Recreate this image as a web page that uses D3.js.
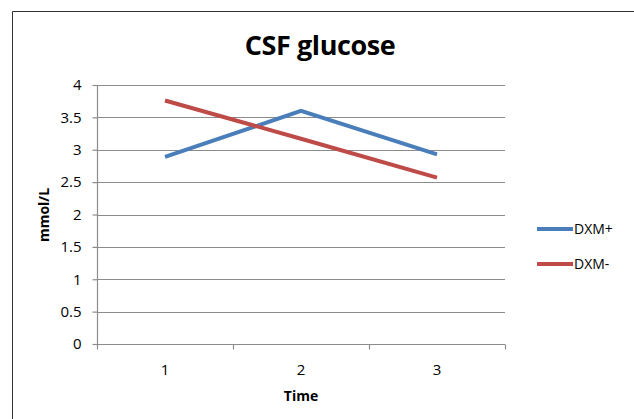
<!DOCTYPE html>
<html>
<head>
    <title>CSF glucose</title>
    <script src="https://cdnjs.cloudflare.com/ajax/libs/d3/7.8.5/d3.min.js"></script>
    <style>
    body {
        margin:0;
        background:white;
    }
    text {
        font-family:'Open Sans', 'DejaVu Sans', sans-serif;
        fill:#000;
    }
    </style>
</head>
<body>
<div id='chart'></div>
<script>
    // data
    var times = ['1', '2', '3'];
    var dxmPlus = [2.89, 3.60, 2.93];
    var dxmMinus = [3.76, 3.17, 2.57];
    var seriesNames = ['DXM+', 'DXM-'];
    var seriesColors = ['#4a7ebb', '#be4b48'];
    var yTicks = [0, 0.5, 1, 1.5, 2, 2.5, 3, 3.5, 4];

    var width = 634, height = 419;
    var plot = {left:97, right:505, top:85, bottom:344};

    var svg = d3.select('#chart')
        .append('svg')
        .attr('width', width)
        .attr('height', height);

    // outer frame (top / left only, rest is cut off)
    svg.append('path')
        .attr('d', 'M12.5,' + height + 'V11.5H' + width)
        .attr('fill', 'none')
        .attr('stroke', '#333')
        .attr('stroke-width', 1);

    var x = d3.scaleBand()
        .domain(times)
        .range([plot.left, plot.right]);

    var y = d3.scaleLinear()
        .domain([0, 4])
        .range([plot.bottom, plot.top]);

    // gridlines
    svg.append('g')
        .selectAll('line')
        .data(yTicks.slice(1))
        .enter()
        .append('line')
        .attr('x1', plot.left)
        .attr('x2', plot.right)
        .attr('y1', function(d) { return Math.round(y(d)) + 0.5; })
        .attr('y2', function(d) { return Math.round(y(d)) + 0.5; })
        .attr('stroke', '#8c8c8c')
        .attr('stroke-width', 1.2);

    // y axis
    var yAxis = svg.append('g')
        .attr('transform', 'translate(' + (plot.left + 0.5) + ',0)')
        .call(d3.axisLeft(y).tickValues(yTicks).tickSize(5).tickPadding(11)
            .tickFormat(function(d) { return d; }));
    yAxis.selectAll('path, line').attr('stroke', '#8c8c8c').attr('stroke-width', 1.2);
    yAxis.select('.domain').attr('d', 'M0,' + plot.top + 'V' + plot.bottom);
    yAxis.selectAll('text')
        .style('font-size', '15px')
        .style('font-family', "'Open Sans', sans-serif")
        .attr('fill', '#000');

    // x axis, ticks sit between categories
    var xAxis = svg.append('g')
        .attr('transform', 'translate(0,' + (plot.bottom + 0.5) + ')');
    xAxis.append('line')
        .attr('x1', plot.left)
        .attr('x2', plot.right)
        .attr('stroke', '#8c8c8c')
        .attr('stroke-width', 1.2);
    var edges = times.map(function(t) { return x(t); }).concat([x(times[times.length - 1]) + x.bandwidth()]);
    xAxis.selectAll('.tick-mark')
        .data(edges)
        .enter()
        .append('line')
        .attr('class', 'tick-mark')
        .attr('x1', function(d) { return Math.round(d) + 0.5; })
        .attr('x2', function(d) { return Math.round(d) + 0.5; })
        .attr('y1', 0)
        .attr('y2', 5)
        .attr('stroke', '#8c8c8c')
        .attr('stroke-width', 1.2);
    xAxis.selectAll('.tick-label')
        .data(times)
        .enter()
        .append('text')
        .attr('class', 'tick-label')
        .attr('x', function(d) { return x(d) + x.bandwidth() / 2; })
        .attr('y', 30)
        .attr('text-anchor', 'middle')
        .style('font-size', '15px')
        .text(function(d) { return d; });

    // axis titles
    svg.append('text')
        .attr('x', x(times[1]) + x.bandwidth() / 2)
        .attr('y', 401)
        .attr('text-anchor', 'middle')
        .style('font-size', '14px')
        .style('font-weight', 'bold')
        .text('Time');

    svg.append('text')
        .attr('transform', 'translate(49,215) rotate(-90)')
        .attr('text-anchor', 'middle')
        .style('font-size', '14px')
        .style('font-weight', 'bold')
        .text('mmol/L');

    // title
    svg.append('text')
        .attr('x', 320)
        .attr('y', 55)
        .attr('text-anchor', 'middle')
        .style('font-size', '27px')
        .style('font-weight', 'bold')
        .style('letter-spacing', '-0.4px')
        .text('CSF glucose');

    // series lines
    var allSeries = [dxmPlus, dxmMinus];
    var line = d3.line()
        .x(function(d, i) { return x(times[i]) + x.bandwidth() / 2; })
        .y(function(d) { return y(d); });

    svg.append('g')
        .selectAll('path')
        .data(allSeries)
        .enter()
        .append('path')
        .attr('d', line)
        .attr('fill', 'none')
        .attr('stroke', function(d, i) { return seriesColors[i]; })
        .attr('stroke-width', 4)
        .attr('stroke-linejoin', 'miter');

    // legend
    var legend = svg.append('g')
        .selectAll('g')
        .data(seriesNames)
        .enter()
        .append('g')
        .attr('transform', function(d, i) { return 'translate(537,' + (229 + i * 35) + ')'; });
    legend.append('line')
        .attr('x1', 0)
        .attr('x2', 36)
        .attr('stroke', function(d, i) { return seriesColors[i]; })
        .attr('stroke-width', 4);
    legend.append('text')
        .attr('x', 37)
        .attr('y', 5)
        .style('font-size', '14px')
        .text(function(d) { return d; });
</script>
</body>
</html>
